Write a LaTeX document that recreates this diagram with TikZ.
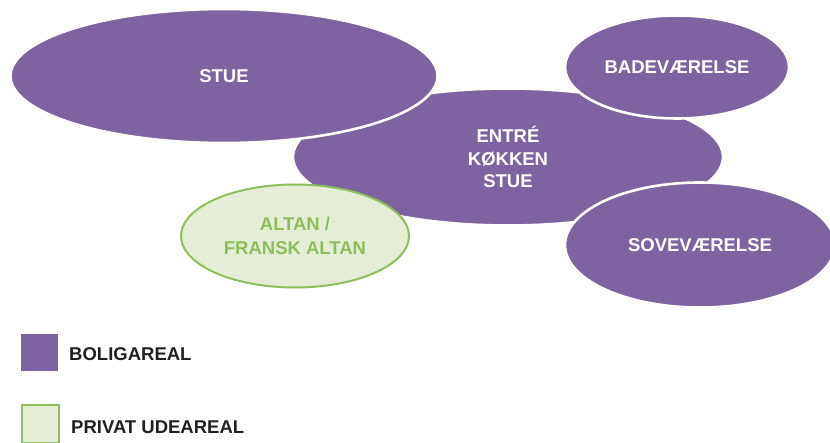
\documentclass[tikz,border=0pt]{standalone}
\usepackage{fontspec}
\setmainfont{Liberation Sans}
\usetikzlibrary{shapes.geometric}
\definecolor{plum}{HTML}{7E63A1}
\definecolor{leaf}{HTML}{8DBE5B}
\definecolor{leaffill}{HTML}{E5EDD5}
\definecolor{ink}{HTML}{231F20}
\tikzset{
  room/.style={ellipse, fill=plum, draw=white, line width=2.6pt, inner sep=0pt,
    text=white, font=\fontsize{18.5}{22.5}\selectfont\bfseries, align=center},
  balc/.style={ellipse, fill=leaffill, draw=leaf, line width=2pt, inner sep=0pt,
    text=leaf, font=\fontsize{18.5}{24.5}\selectfont\bfseries, align=center},
  legbox/.style={minimum size=37pt, inner sep=0pt},
  legtext/.style={anchor=west, text=ink, font=\fontsize{18.5}{22}\selectfont\bfseries, inner sep=0pt}
}
\begin{document}
\begin{tikzpicture}[x=1pt,y=-1pt]
\useasboundingbox (0,0) rectangle (830,443);
\node[room, minimum width=430pt, minimum height=137pt] (center) at (508,157) {ENTRÉ\\KØKKEN\\STUE};
\node[room, minimum width=427pt, minimum height=134pt] (stue) at (224,76) {STUE};
\node[room, minimum width=224pt, minimum height=103pt] (bad) at (677,67) {BADEVÆRELSE};
\node[room, minimum width=270pt, minimum height=125pt] (sove) at (700,245) {SOVEVÆRELSE};
\node[balc, minimum width=228pt, minimum height=103pt] (altan) at (295,236) {ALTAN /\\FRANSK ALTAN};
\node[legbox, fill=plum] (lp) at (39.5,352.5) {};
\node[legbox, fill=leaffill, draw=leaf, line width=2pt] (lg) at (40,424) {};
\node[legtext] (tp) at (69,354) {BOLIGAREAL};
\node[legtext] (tg) at (71,427) {PRIVAT UDEAREAL};
\end{tikzpicture}
\end{document}
